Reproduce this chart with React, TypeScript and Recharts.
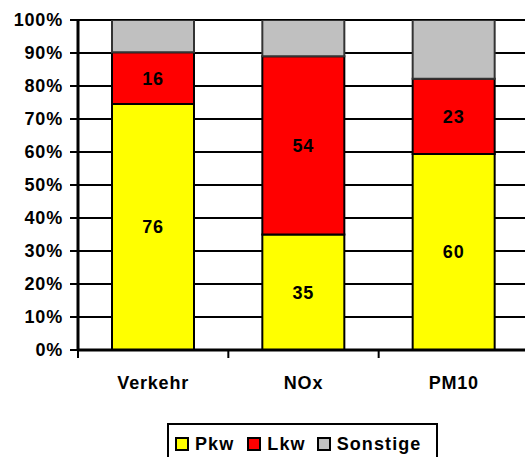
import React from "react";
import { BarChart, Bar, XAxis, YAxis, CartesianGrid, Legend, LabelList } from "recharts";

const categories = ["Verkehr", "NOx", "PM10"];
const seriesNames = ["Pkw", "Lkw", "Sonstige"];
const pkw = [76, 35, 60];
const lkw = [16, 54, 23];
const sonstige = [10, 11, 18];
const yTicks = [0, 10, 20, 30, 40, 50, 60, 70, 80, 90, 100];

const data = categories.map((c, i) => ({ name: c, pkw: pkw[i], lkw: lkw[i], sonstige: sonstige[i] }));

if (typeof document !== "undefined") {
  document.documentElement.style.overflow = "hidden";
  document.body.style.margin = "0";
}

const FONT = '"Liberation Sans", Arial, sans-serif';
const textStyle = { fontFamily: FONT, fontWeight: 700, fontSize: 18, letterSpacing: 0.8 };

const TICK_MARGIN = 26;
const TICK_LEN = 8;

const CategoryTick = (props: any) => {
  const { x, y, payload, index, visibleTicksCount } = props;
  const half = payload && payload.offset ? payload.offset : 0;
  const axisY = y - TICK_MARGIN;
  const boundaries = [x - half];
  if (index === (visibleTicksCount || 3) - 1) boundaries.push(x + half);
  return (
    <g>
      {boundaries.map((bx, i) => (
        <line key={i} x1={bx} x2={bx} y1={axisY} y2={axisY + TICK_LEN} stroke="#000" strokeWidth={2} />
      ))}
      <text x={x} y={y} dy="0.71em" textAnchor="middle" style={{ ...textStyle, fill: "#000" }}>
        {payload.value}
      </text>
    </g>
  );
};

const renderLegend = (props: any) => {
  const payload = [...(props.payload || [])].sort(
    (a: any, b: any) => seriesNames.indexOf(a.value) - seriesNames.indexOf(b.value)
  );
  return (
    <div
      style={{
        boxSizing: "border-box",
        width: 271,
        height: 40,
        border: "2px solid #000",
        background: "#fff",
        display: "flex",
        alignItems: "flex-start",
        paddingLeft: 6,
        paddingTop: 10,
      }}
    >
      {payload.map((p: any, i: number) => (
        <div key={i} style={{ display: "flex", alignItems: "center", marginRight: i === 0 ? 13 : 11 }}>
          <span
            style={{
              display: "inline-block",
              boxSizing: "border-box",
              width: 14,
              height: 14,
              background: p.color,
              border: "2px solid #000",
              marginRight: 6,
            }}
          />
          <span style={{ ...textStyle, letterSpacing: 1.1, color: "#000", lineHeight: "18px" }}>{p.value}</span>
        </div>
      ))}
    </div>
  );
};

export default function App() {
  return (
    <div style={{ width: 525, height: 457, overflow: "hidden", background: "#fff", boxSizing: "border-box", paddingLeft: 8, paddingTop: 8 }}>
      <BarChart
        width={530}
        height={449}
        data={data}
        stackOffset="expand"
        margin={{ top: 12, right: 9, bottom: 27, left: 0 }}
      >
        <CartesianGrid horizontal vertical={false} stroke="#000" strokeWidth={2} />
        <XAxis
          dataKey="name"
          axisLine={{ stroke: "#000", strokeWidth: 3 }}
          tickLine={false}
          tickSize={0}
          tickMargin={TICK_MARGIN}
          height={40}
          tick={CategoryTick}
          interval={0}
        />
        <YAxis
          domain={[0, 1]}
          ticks={yTicks.map((t) => t / 100)}
          tickFormatter={(v: number) => `${Math.round(v * 100)}%`}
          axisLine={{ stroke: "#000", strokeWidth: 3 }}
          tickLine={{ stroke: "#000", strokeWidth: 2 }}
          tickSize={8}
          tickMargin={7}
          width={70}
          tick={{ ...textStyle, fill: "#000" }}
          allowDataOverflow
        />
        <Legend
          content={renderLegend}
          wrapperStyle={{ position: "absolute", left: 159, top: 415, width: 271, height: 40 }}
        />
        <Bar dataKey="pkw" name="Pkw" stackId="a" fill="#FFFF00" stroke="#000" strokeWidth={2} barSize={82} isAnimationActive={false}>
          <LabelList dataKey="pkw" position="center" style={{ ...textStyle, fill: "#000" }} />
        </Bar>
        <Bar dataKey="lkw" name="Lkw" stackId="a" fill="#FF0000" stroke="#000" strokeWidth={2} barSize={82} isAnimationActive={false}>
          <LabelList dataKey="lkw" position="center" style={{ ...textStyle, fill: "#000" }} />
        </Bar>
        <Bar dataKey="sonstige" name="Sonstige" stackId="a" fill="#C0C0C0" stroke="#333" strokeWidth={2} barSize={82} isAnimationActive={false} />
      </BarChart>
    </div>
  );
}
